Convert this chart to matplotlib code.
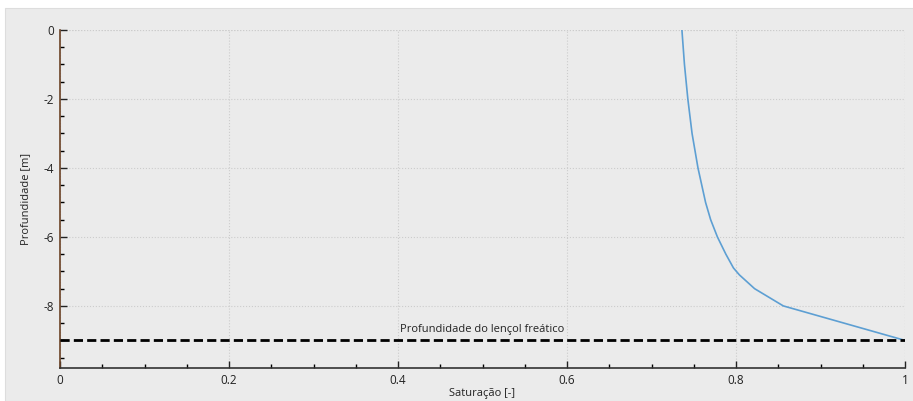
import numpy as np
import matplotlib.pyplot as plt
from matplotlib.patches import Rectangle
from matplotlib.ticker import MultipleLocator

# saturation profile
profundidade = [0, -1, -2, -3, -4, -5, -5.5, -6, -6.5, -6.9, -7.1, -7.5, -8.0, -9.0]
saturacao = [0.736, 0.739, 0.743, 0.748, 0.755, 0.764, 0.770, 0.778, 0.788, 0.797, 0.804, 0.822, 0.856, 1.0]
lencol = -9.0
xticks = [0, 0.2, 0.4, 0.6, 0.8, 1]
xticklabels = ['0', '0.2', '0.4', '0.6', '0.8', '1']
yticks = [0, -2, -4, -6, -8]

bg = '#ebebeb'
plt.rcParams['font.family'] = ['Open Sans', 'DejaVu Sans']
plt.rcParams['axes.unicode_minus'] = False

fig = plt.figure(figsize=(9.13, 4.01), dpi=100, facecolor='white')
fig.patches.append(Rectangle((5/913, 0), 1, (401-8)/401, transform=fig.transFigure,
                             facecolor=bg, edgecolor='#dddddd', lw=0.8, zorder=-10))

ax = fig.add_axes([60/913, (401-368)/401, (905-60)/913, (368-30)/401])
ax.set_facecolor(bg)

ax.plot(saturacao, profundidade, color='#5d9fd3', lw=1.2, zorder=3)
ax.axhline(lencol, color='black', lw=2, dashes=(3.3, 1.5), zorder=4)
ax.text(0.5, -8.67, 'Profundidade do lençol freático', ha='center', va='center', fontsize=8, color='#222222')

ax.set_xlim(0, 1)
ax.set_ylim(-9.8, 0)
ax.set_xticks(xticks)
ax.set_xticklabels(xticklabels)
ax.set_yticks(yticks)
ax.xaxis.set_minor_locator(MultipleLocator(0.05))
ax.yaxis.set_minor_locator(MultipleLocator(0.5))
ax.tick_params(which='major', direction='in', length=5, width=1, labelsize=8.5, colors='#222222', pad=4)
ax.tick_params(which='minor', direction='in', length=3, width=1)

ax.grid(True, which='major', color='#cccccc', ls=':', lw=0.8)
ax.axhline(0, color='#cccccc', ls=':', lw=0.8, zorder=1)
ax.axvline(1, color='#cccccc', ls=':', lw=0.8, zorder=1)

for s in ['top', 'right']:
    ax.spines[s].set_visible(False)
ax.spines['left'].set_color('#6b4226')
ax.spines['bottom'].set_color('#333333')
ax.spines['left'].set_linewidth(1.2)
ax.spines['bottom'].set_linewidth(1.2)

ax.set_xlabel('Saturação [-]', fontsize=8, color='#222222', labelpad=1)
ax.set_ylabel('Profundidade [m]', fontsize=8, color='#222222', labelpad=9)

fig.savefig('out.png', dpi=100, facecolor='white')
